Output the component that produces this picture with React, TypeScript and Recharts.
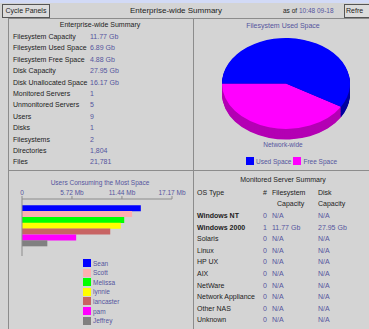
import { BarChart, Bar, XAxis, YAxis, Cell, PieChart, Pie } from 'recharts';

const summaryLabels = [
  'Filesystem Capacity',
  'Filesystem Used Space',
  'Filesystem Free Space',
  'Disk Capacity',
  'Disk Unallocated Space',
  'Monitored Servers',
  'Unmonitored Servers',
  'Users',
  'Disks',
  'Filesystems',
  'Directories',
  'Files',
];
const summaryValues = ['11.77 Gb', '6.89 Gb', '4.88 Gb', '27.95 Gb', '16.17 Gb', '1', '5', '9', '1', '2', '1,804', '21,781'];

const spaceNames = ['Free Space', 'Used Space'];
const spaceValues = [4.88, 6.89];
const spaceColors = ['#ff00ff', '#0000ff'];
const spaceSideColors = ['#b400b4', '#0000a0'];
const legendOrder = [1, 0];

const userNames = ['Sean', 'Scott', 'Melissa', 'lynnie', 'lancaster', 'pam', 'Jeffrey'];
const userSpaceMb = [13.6, 12.6, 11.7, 11.3, 10.1, 6.2, 2.9];
const userColors = ['#0000ff', '#ffafaf', '#00ff00', '#ffff00', '#c86464', '#ff00ff', '#808080'];
const axisTicks = [0, 5.72, 11.44, 17.17];
const axisTickLabels = ['0', '5.72 Mb', '11.44 Mb', '17.17 Mb'];

const osTypes = ['Windows NT', 'Windows 2000', 'Solaris', 'Linux', 'HP UX', 'AIX', 'NetWare', 'Network Appliance', 'Other NAS', 'Unknown'];
const osServerCounts = [0, 1, 0, 0, 0, 0, 0, 0, 0, 0];
const osFsCapacity = ['N/A', '11.77 Gb', 'N/A', 'N/A', 'N/A', 'N/A', 'N/A', 'N/A', 'N/A', 'N/A'];
const osDiskCapacity = ['N/A', '27.95 Gb', 'N/A', 'N/A', 'N/A', 'N/A', 'N/A', 'N/A', 'N/A', 'N/A'];

const font = '"Liberation Sans", Arial, sans-serif';
const bg = '#d4d4d4';
const ink = '#1c1c1c';
const blueInk = '#55559e';
const line = '#8c8c8c';

const barData = userNames.map((name, i) => ({ name, value: userSpaceMb[i] }));
const pieData = spaceNames.map((name, i) => ({ name, value: spaceValues[i] }));
const sideLayers = [15, 14, 13, 12, 11, 10, 9, 8, 7, 6, 5, 4, 3, 2, 1];

function Txt({ x, y, children, color = ink, size = 7, weight = 400, center = false }: any) {
  return (
    <div
      style={{
        position: 'absolute',
        left: center ? x - 100 : x,
        width: center ? 200 : undefined,
        textAlign: center ? 'center' : 'left',
        top: y - 5,
        lineHeight: '10px',
        fontSize: size,
        fontWeight: weight,
        color,
        whiteSpace: 'nowrap',
      }}
    >
      {children}
    </div>
  );
}

function Rule({ x, y, w, h }: any) {
  return <div style={{ position: 'absolute', left: x, top: y, width: w, height: h, background: line }} />;
}

export default function App() {
  const pieScale = 0.71;
  return (
    <div
      style={{
        position: 'fixed',
        left: 0,
        top: 0,
        width: 369,
        height: 329,
        background: bg,
        fontFamily: font,
        overflow: 'hidden',
      }}
    >
      <div style={{ position: 'absolute', left: 0, top: 0, width: 369, height: 3, background: '#d2daf6' }} />

      {/* toolbar */}
      <div
        style={{
          position: 'absolute', left: 2, top: 4, width: 46, height: 12, border: '1px solid #555',
          fontSize: 7, lineHeight: '12px', textAlign: 'center', color: ink, background: '#dcdcdc',
        }}
      >
        Cycle Panels
      </div>
      <Txt x={176} y={11} size={8} center>Enterprise-wide Summary</Txt>
      <div style={{ position: 'absolute', left: 283, top: 6, fontSize: 6.5, lineHeight: '10px', color: ink, whiteSpace: 'nowrap' }}>
        as of <span style={{ color: blueInk }}>10:48 09-18</span>
      </div>
      <div
        style={{
          position: 'absolute', left: 344, top: 4, width: 30, height: 12, border: '1px solid #555',
          fontSize: 7, lineHeight: '12px', paddingLeft: 1, color: ink, background: '#dcdcdc', whiteSpace: 'nowrap',
        }}
      >
        Refre
      </div>

      {/* panel borders */}
      <Rule x={8} y={18} w={361} h={1} />
      <Rule x={8} y={18} w={1} h={311} />
      <Rule x={193} y={18} w={1} h={311} />
      <Rule x={8} y={170} w={361} h={1} />

      {/* top-left summary */}
      <Txt x={100} y={25} center>Enterprise-wide Summary</Txt>
      {summaryLabels.map((label, i) => (
        <Txt key={label} x={13} y={37 + i * 11.4}>{label}</Txt>
      ))}
      {summaryValues.map((v, i) => (
        <Txt key={i} x={90} y={37 + i * 11.4} color={blueInk}>{v}</Txt>
      ))}

      {/* top-right pie */}
      <Txt x={283} y={26} color={blueInk} center>Filesystem Used Space</Txt>
      <div
        style={{
          position: 'absolute', left: 216, top: 37.6, width: 140, height: 150,
          transform: `scaleY(${pieScale})`, transformOrigin: 'top left',
        }}
      >
        <PieChart width={140} height={150} margin={{ top: 0, right: 0, bottom: 0, left: 0 }}>
          {sideLayers.map((d) => (
            <Pie
              key={d}
              data={pieData}
              dataKey="value"
              cx={70}
              cy={64 + d}
              outerRadius={64}
              startAngle={180}
              endAngle={540}
              stroke="none"
              isAnimationActive={false}
            >
              {pieData.map((p, i) => (
                <Cell key={p.name} fill={spaceSideColors[i]} />
              ))}
            </Pie>
          ))}
          <Pie
            data={pieData}
            dataKey="value"
            cx={70}
            cy={64}
            outerRadius={64}
            startAngle={180}
            endAngle={540}
            stroke="none"
            isAnimationActive={false}
          >
            {pieData.map((p, i) => (
              <Cell key={p.name} fill={spaceColors[i]} />
            ))}
          </Pie>
        </PieChart>
      </div>
      <Txt x={283} y={145} size={6.5} color={blueInk} center>Network-wide</Txt>
      <div style={{ position: 'absolute', left: 246, top: 157, display: 'flex', alignItems: 'center', fontSize: 6.5, color: blueInk, whiteSpace: 'nowrap' }}>
        {legendOrder.map((i) => (
          <span key={i} style={{ display: 'flex', alignItems: 'center', marginRight: 2 }}>
            <span style={{ width: 8, height: 8, background: spaceColors[i], marginRight: 2, display: 'inline-block' }} />
            {spaceNames[i]}
          </span>
        ))}
      </div>

      {/* bottom-left bars */}
      <Txt x={100} y={183} size={6.5} color={blueInk} center>Users Consuming the Most Space</Txt>
      <div style={{ position: 'absolute', left: 0, top: 186 }}>
        <BarChart
          width={192}
          height={70}
          layout="vertical"
          data={barData}
          margin={{ top: 0, right: 20, bottom: 0, left: 21 }}
          barCategoryGap="3%"
        >
          <XAxis
            type="number"
            orientation="top"
            domain={[0, 17.17]}
            ticks={axisTicks}
            interval={0}
            height={13}
            tickSize={3}
            tickMargin={1}
            tickFormatter={(v: number) => axisTickLabels[axisTicks.indexOf(v)]}
            tick={{ fontSize: 6.5, fill: blueInk, fontFamily: font }}
            axisLine={{ stroke: line }}
            tickLine={{ stroke: line }}
          />
          <YAxis
            type="category"
            dataKey="name"
            width={1}
            tick={false}
            tickLine={false}
            axisLine={{ stroke: line }}
            padding={{ top: 6, bottom: 10 }}
          />
          <Bar dataKey="value" isAnimationActive={false}>
            {barData.map((d, i) => (
              <Cell key={d.name} fill={userColors[i]} />
            ))}
          </Bar>
        </BarChart>
      </div>
      {userNames.map((n, i) => (
        <div key={n} style={{ position: 'absolute', left: 83, top: 259 + i * 9.6, display: 'flex', alignItems: 'center', fontSize: 6.5, color: blueInk }}>
          <span style={{ width: 8, height: 8, background: userColors[i], marginRight: 2, display: 'inline-block' }} />
          {n}
        </div>
      ))}

      {/* bottom-right table */}
      <Txt x={283} y={180} center>Monitored Server Summary</Txt>
      <Txt x={197} y={193}>OS Type</Txt>
      <Txt x={263} y={193}>#</Txt>
      <Txt x={272} y={193}>Filesystem</Txt>
      <Txt x={318} y={193}>Disk</Txt>
      <Txt x={277} y={204}>Capacity</Txt>
      <Txt x={318} y={204}>Capacity</Txt>
      {osTypes.map((os, i) => (
        <div key={os}>
          <Txt x={197} y={216 + i * 11.6} weight={i < 2 ? 700 : 400}>{os}</Txt>
          <Txt x={263} y={216 + i * 11.6} color={blueInk}>{osServerCounts[i]}</Txt>
          <Txt x={272} y={216 + i * 11.6} color={blueInk}>{osFsCapacity[i]}</Txt>
          <Txt x={318} y={216 + i * 11.6} color={blueInk}>{osDiskCapacity[i]}</Txt>
        </div>
      ))}
    </div>
  );
}
